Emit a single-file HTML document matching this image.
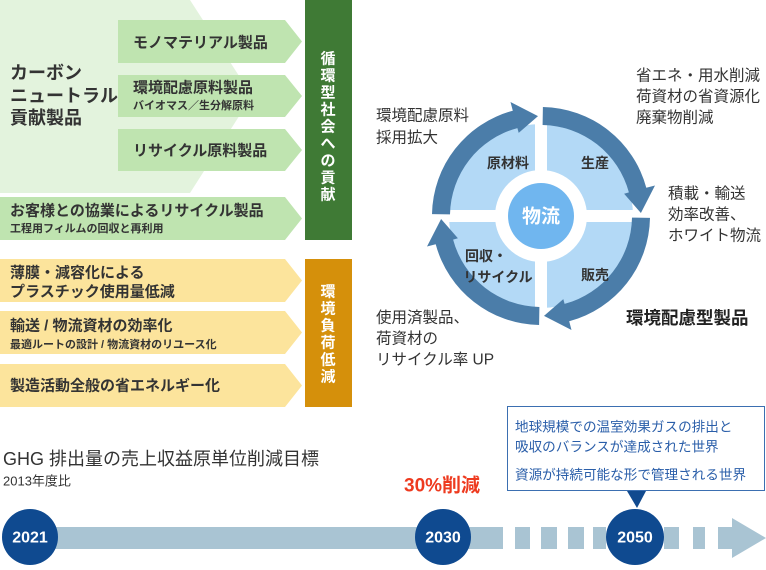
<!DOCTYPE html>
<html><head><meta charset="utf-8">
<style>
html,body{margin:0;padding:0;background:#fff;}
svg{display:block;font-family:"Liberation Sans","Noto Sans CJK JP",sans-serif;}
.b{font-weight:bold;}
</style></head>
<body>
<svg width="766" height="570" viewBox="0 0 766 570" xmlns="http://www.w3.org/2000/svg">
<polygon points="0,0 190,0 252,96 190,193 0,193" fill="#e3f3dd"/>
<g fill="#bfe4b0">
<polygon points="118,20 285,20 302,41.5 285,63 118,63"/>
<polygon points="118,75 285,75 302,96 285,117 118,117"/>
<polygon points="118,129 285,129 302,150 285,171 118,171"/>
<polygon points="0,197 285,197 302,218.5 285,240 0,240"/>
</g>
<rect x="305" y="0" width="47" height="240" fill="#3f7a35"/>
<g fill="#fce49c">
<polygon points="0,259 285,259 302,280.5 285,302 0,302"/>
<polygon points="0,311 285,311 302,332.5 285,354 0,354"/>
<polygon points="0,364 285,364 302,385.5 285,407 0,407"/>
</g>
<rect x="305" y="259" width="47" height="148" fill="#d5900b"/>

<g fill="#333" dominant-baseline="central">
<text x="10" y="73" font-size="18" class="b">カーボン</text>
<text x="10" y="96" font-size="18" class="b">ニュートラル</text>
<text x="10" y="118" font-size="18" class="b">貢献製品</text>
<text x="133" y="43" font-size="15" class="b">モノマテリアル製品</text>
<text x="133" y="88" font-size="15" class="b">環境配慮原料製品</text>
<text x="133" y="106" font-size="11" class="b">バイオマス／生分解原料</text>
<text x="133" y="151" font-size="15" class="b">リサイクル原料製品</text>
<text x="10" y="211" font-size="15" class="b">お客様との協業によるリサイクル製品</text>
<text x="10" y="229" font-size="11" class="b">工程用フィルムの回収と再利用</text>
<text x="10" y="273" font-size="15" class="b">薄膜・減容化による</text>
<text x="10" y="292" font-size="15" class="b">プラスチック使用量低減</text>
<text x="10" y="326" font-size="15" class="b">輸送 / 物流資材の効率化</text>
<text x="10" y="345" font-size="11" class="b">最適ルートの設計 / 物流資材のリユース化</text>
<text x="10" y="386" font-size="15" class="b">製造活動全般の省エネルギー化</text>
</g>
<g fill="#fff" font-size="15" class="b" text-anchor="middle" dominant-baseline="central">
<text x="328" y="59">循</text><text x="328" y="76">環</text><text x="328" y="93">型</text><text x="328" y="110">社</text><text x="328" y="127">会</text><text x="328" y="144">へ</text><text x="328" y="161">の</text><text x="328" y="178">貢</text><text x="328" y="195">献</text>
<text x="328" y="292">環</text><text x="328" y="309">境</text><text x="328" y="326">負</text><text x="328" y="343">荷</text><text x="328" y="360">低</text><text x="328" y="377">減</text>
</g>

<circle cx="541" cy="216" r="92" fill="#b3d9f6"/>
<rect x="535" y="110" width="12" height="212" fill="#fff"/>
<rect x="435" y="210" width="212" height="12" fill="#fff"/>
<circle cx="541" cy="216" r="46" fill="#fff"/>
<circle cx="541" cy="216" r="33" fill="#70b6ef"/>
<g fill="#4b7da9">
<path id="arr" d="M432,214.1 A109,109 0 0 1 512.8,110.7 L510.5,102 L538,116.1 L518.7,132.9 L517.4,128.1 A91,91 0 0 0 450,214.4 Z"/>
<use href="#arr" transform="rotate(90 541 216)"/>
<use href="#arr" transform="rotate(180 541 216)"/>
<use href="#arr" transform="rotate(270 541 216)"/>
</g>
<g fill="#333" font-size="14" class="b" text-anchor="middle" dominant-baseline="central">
<text x="508" y="163">原材料</text>
<text x="595" y="163">生産</text>
<text x="486" y="256">回収・</text>
<text x="498" y="277">リサイクル</text>
<text x="595" y="275">販売</text>
</g>
<text x="541" y="217" fill="#fff" font-size="19" class="b" text-anchor="middle" dominant-baseline="central">物流</text>
<g fill="#333" font-size="15.5" dominant-baseline="central">
<text x="376" y="116">環境配慮原料</text>
<text x="376" y="138">採用拡大</text>
<text x="636" y="76">省エネ・用水削減</text>
<text x="636" y="97">荷資材の省資源化</text>
<text x="636" y="118">廃棄物削減</text>
<text x="668" y="194">積載・輸送</text>
<text x="668" y="215">効率改善、</text>
<text x="668" y="236">ホワイト物流</text>
<text x="376" y="318">使用済製品、</text>
<text x="376" y="339">荷資材の</text>
<text x="376" y="360">リサイクル率 UP</text>
</g>
<text x="626" y="318" fill="#222" font-size="17.5" class="b" dominant-baseline="central">環境配慮型製品</text>

<text x="3" y="459" fill="#333" font-size="18" dominant-baseline="central">GHG 排出量の売上収益原単位削減目標</text>
<text x="3" y="481" fill="#333" font-size="13" dominant-baseline="central">2013年度比</text>
<text x="404" y="486" fill="#ee3a1f" font-size="19" class="b" dominant-baseline="central">30%削減</text>
<rect x="507.5" y="406.5" width="257" height="84" fill="#fff" stroke="#3b6fb1" stroke-width="1"/>
<polygon points="627,491 646,491 637,508" fill="#114a8f"/>
<g fill="#2a5ea9" font-size="13.6" dominant-baseline="central">
<text x="515" y="427">地球規模での温室効果ガスの排出と</text>
<text x="515" y="447">吸収のバランスが達成された世界</text>
<text x="515" y="475">資源が持続可能な形で管理される世界</text>
</g>
<g fill="#a9c4d3">
<rect x="30" y="527" width="473" height="22"/>
<rect x="515" y="527" width="15" height="22"/>
<rect x="541" y="527" width="16" height="22"/>
<rect x="568" y="527" width="16" height="22"/>
<rect x="593" y="527" width="13" height="22"/>
<rect x="664" y="527" width="15" height="22"/>
<rect x="693" y="527" width="12" height="22"/>
<polygon points="718,527 732,527 732,518 766,538 732,558 732,549 718,549"/>
</g>
<g fill="#0f4a90">
<ellipse cx="30" cy="537" rx="28" ry="28"/>
<ellipse cx="443" cy="537" rx="28" ry="28"/>
<ellipse cx="635" cy="537" rx="29" ry="28"/>
</g>
<g fill="#fff" font-size="16" class="b" text-anchor="middle" dominant-baseline="central">
<text x="30" y="538">2021</text>
<text x="443" y="538">2030</text>
<text x="635" y="538">2050</text>
</g>
</svg>
</body></html>
